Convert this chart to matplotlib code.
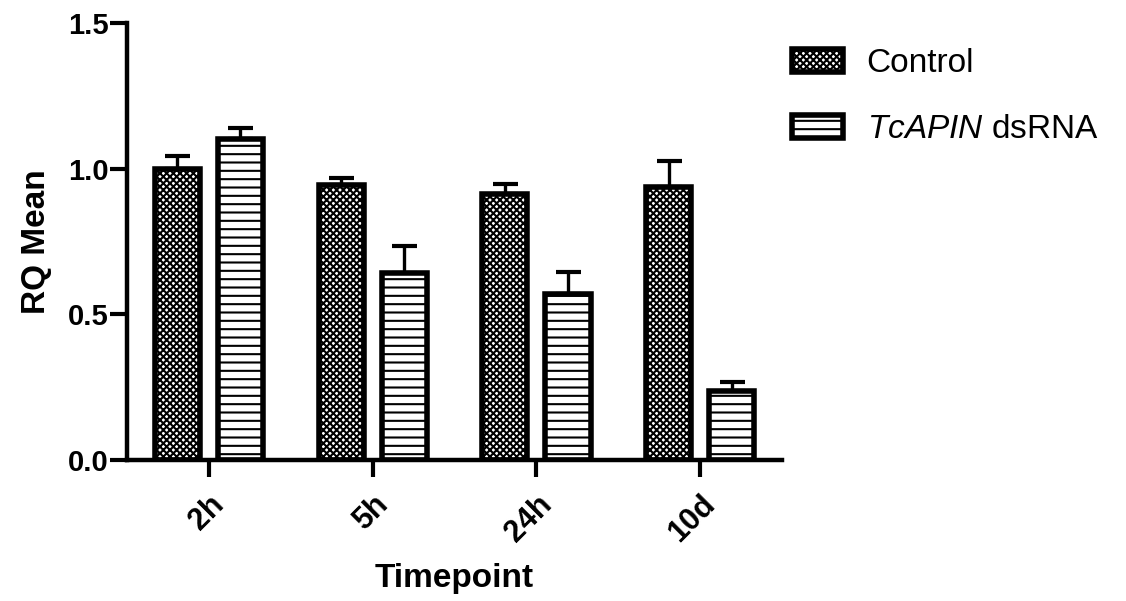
import numpy as np
import matplotlib.pyplot as plt
from matplotlib.patches import Patch

plt.rcParams['font.family'] = ['Liberation Sans', 'DejaVu Sans']
plt.rcParams['mathtext.fontset'] = 'custom'
plt.rcParams['mathtext.it'] = 'Liberation Sans:italic'
plt.rcParams['mathtext.rm'] = 'Liberation Sans'
plt.rcParams['hatch.linewidth'] = 1.5

timepoints = ['2h', '5h', '24h', '10d']
control = [1.00, 0.943, 0.913, 0.937]
control_err = [0.043, 0.024, 0.036, 0.088]
dsrna = [1.102, 0.641, 0.571, 0.237]
dsrna_err = [0.037, 0.092, 0.075, 0.03]

fig = plt.figure(figsize=(11.26, 6.01), dpi=100)
ax = fig.add_axes([0.1128, 0.2346, 0.5817, 0.7271])

x = np.arange(len(timepoints))
w = 0.275
off = 0.193

err_kw = dict(fmt='none', ecolor='black', elinewidth=2.4, capsize=9, capthick=3, zorder=1)
ax.errorbar(x - off, control, yerr=[[0] * 4, control_err], **err_kw)
ax.errorbar(x + off, dsrna, yerr=[[0] * 4, dsrna_err], **err_kw)
ax.bar(x - off, control, w, color='white', edgecolor='black', linewidth=4,
       hatch='xxxxx', zorder=2)
ax.bar(x + off, dsrna, w, color='white', edgecolor='black', linewidth=4,
       hatch='--', zorder=2)

ax.set_xlim(-0.5, 3.5)
ax.set_ylim(0, 1.5)
ax.set_yticks([0.0, 0.5, 1.0, 1.5])
ax.set_yticklabels(['0.0', '0.5', '1.0', '1.5'])
ax.set_xticks(x)
ax.set_xticklabels(timepoints, rotation=45, ha='right', va='top', rotation_mode='anchor')

for s in ['top', 'right']:
    ax.spines[s].set_visible(False)
for s in ['left', 'bottom']:
    ax.spines[s].set_linewidth(3.2)
ax.tick_params(width=3, length=12, labelsize=21)
ax.tick_params(axis='x', pad=9, labelsize=22)
ax.tick_params(axis='y', pad=1)
for lab in ax.get_xticklabels() + ax.get_yticklabels():
    lab.set_fontweight('bold')

ax.set_ylabel('RQ Mean', fontsize=24, fontweight='bold', labelpad=12)
ax.set_xlabel('Timepoint', fontsize=24, fontweight='bold', labelpad=11)

handles = [Patch(facecolor='white', edgecolor='black', linewidth=4, hatch='xxxxx'),
           Patch(facecolor='white', edgecolor='black', linewidth=4, hatch='--')]
fig.legend(handles, ['Control', r'$\it{TcAPIN}$ dsRNA'], loc='upper left',
           bbox_to_anchor=(0.703, 0.92), frameon=False, fontsize=24,
           handlelength=1.55, handleheight=0.7, handletextpad=0.7,
           labelspacing=1.05, borderpad=0, borderaxespad=0)

fig.savefig('out.png', dpi=100)
